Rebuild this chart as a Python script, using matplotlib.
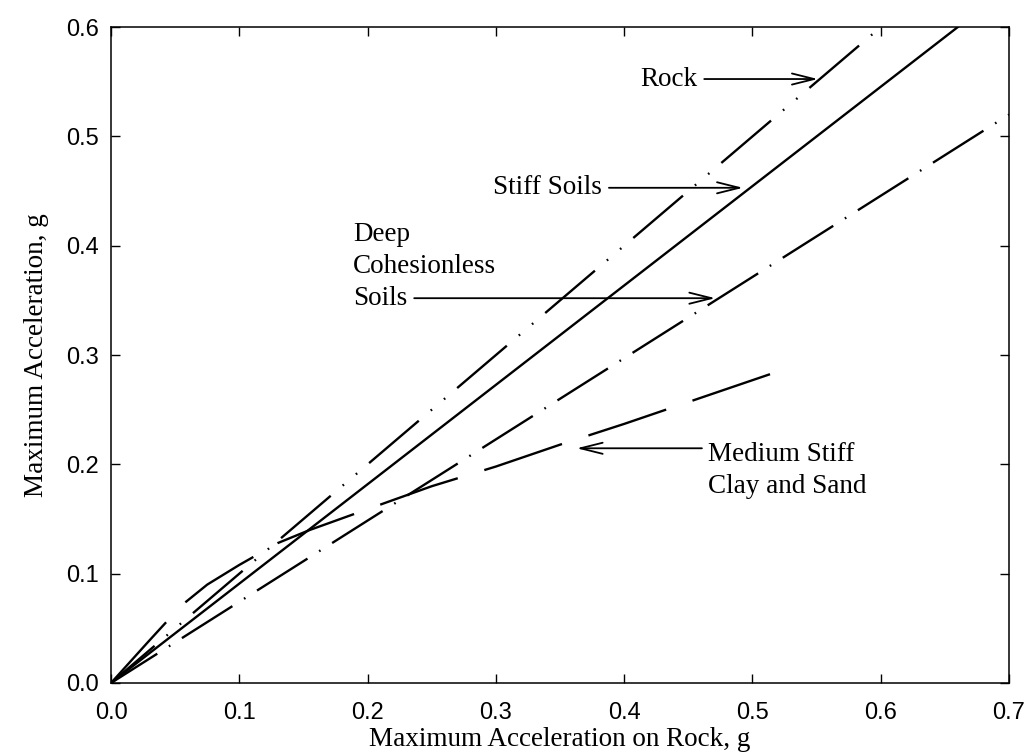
import matplotlib
matplotlib.use('Agg')
import matplotlib.pyplot as plt

plt.rcParams['lines.scale_dashes'] = False
plt.rcParams['font.family'] = 'Liberation Serif'

# curves (max acceleration on rock, g -> site, g)
rock_x = [0.0, 0.6]
rock_y = [0.0, 0.6]

stiff_x = [0.0, 0.66]
stiff_y = [0.0, 0.60]

deep_x = [0.0, 0.70]
deep_y = [0.0, 0.52]

medium_x = [0.0, 0.03, 0.055, 0.075, 0.10, 0.13, 0.155, 0.20, 0.25, 0.30, 0.35, 0.40, 0.45, 0.52]
medium_y = [0.0, 0.039, 0.071, 0.090, 0.108, 0.128, 0.140, 0.159, 0.180, 0.198, 0.218, 0.237, 0.257, 0.285]

x_ticks = [0.0, 0.1, 0.2, 0.3, 0.4, 0.5, 0.6, 0.7]
y_ticks = [0.0, 0.1, 0.2, 0.3, 0.4, 0.5, 0.6]

fig = plt.figure(figsize=(10.31, 7.53), dpi=100)
ax = fig.add_axes([0.1077, 0.093, 0.8710, 0.871])

lw = 1.7
ax.plot(rock_x, rock_y, color='black', lw=lw, dash_capstyle='butt',
        linestyle=(5.8, (47, 11.3, 1.2, 11.3, 1.2, 11.3)))
ax.plot(stiff_x, stiff_y, color='black', lw=lw)
ax.plot(deep_x, deep_y, color='black', lw=lw, dash_capstyle='butt',
        linestyle=(3.6, (43, 9.9, 1.2, 9.9)))
ax.plot(medium_x, medium_y, color='black', lw=lw, dash_capstyle='butt',
        linestyle=(0, (59, 20)))

ax.set_xlim(0, 0.7)
ax.set_ylim(0, 0.6)
ax.set_xticks(x_ticks)
ax.set_yticks(y_ticks)
ax.set_xticklabels(['%.1f' % v for v in x_ticks], family='Liberation Sans', fontsize=17)
ax.set_yticklabels(['%.1f' % v for v in y_ticks], family='Liberation Sans', fontsize=17)
ax.tick_params(direction='in', length=6.5, width=1.0, top=True, right=True)
ax.tick_params(axis='x', pad=14)
ax.tick_params(axis='y', pad=9)
for s in ax.spines.values():
    s.set_linewidth(1.1)

ax.set_xlabel('Maximum Acceleration on Rock, g', fontsize=19.5, labelpad=2)
ax.set_ylabel('Maximum Acceleration, g', fontsize=19.5, labelpad=12)

arrow = dict(arrowstyle='->, head_length=0.8, head_width=0.2', color='black',
             lw=1.3, mutation_scale=20, shrinkA=3, shrinkB=0)
fs = 19.5

ax.annotate('Rock', xy=(0.551, 0.5525), xytext=(0.457, 0.5525),
            ha='right', va='center', fontsize=fs, arrowprops=arrow)
ax.annotate('Stiff Soils', xy=(0.4926, 0.453), xytext=(0.3827, 0.453),
            ha='right', va='center', fontsize=fs, arrowprops=arrow)
ax.text(0.1886, 0.410, 'Deep', ha='left', va='center', fontsize=fs)
ax.text(0.1886, 0.381, 'Cohesionless', ha='left', va='center', fontsize=fs)
ax.annotate('Soils', xy=(0.471, 0.352), xytext=(0.1886, 0.352),
            ha='left', va='center', fontsize=fs, arrowprops=arrow)
ax.text(0.465, 0.209, 'Medium Stiff', ha='left', va='center', fontsize=fs)
ax.text(0.465, 0.180, 'Clay and Sand', ha='left', va='center', fontsize=fs)
ax.annotate('', xy=(0.363, 0.2147), xytext=(0.4606, 0.2147),
            arrowprops=dict(arrow, shrinkA=0))

fig.savefig('out.png', dpi=100)
